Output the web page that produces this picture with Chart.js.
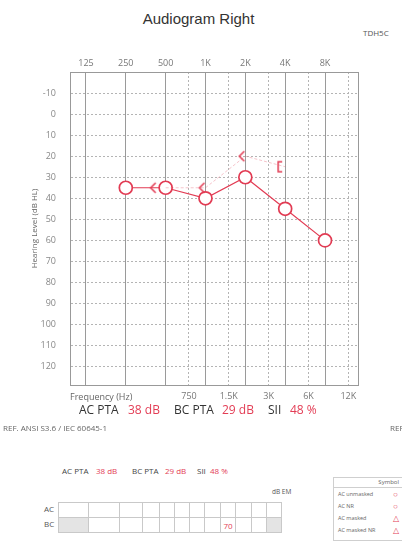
<!DOCTYPE html>
<html>
<head>
<meta charset="utf-8">
<script src="https://cdn.jsdelivr.net/npm/chart.js@4.4.0/dist/chart.umd.min.js"></script>
<style>
html, body { margin: 0; padding: 0; background: #fff; }
body { width: 402px; height: 541px; overflow: hidden; position: relative; font-family: "Open Sans", sans-serif; color: #444; }
#chartBox { position: absolute; left: 0; top: 0; width: 402px; height: 410px; }
.t { position: absolute; white-space: nowrap; line-height: 1; }
.red { color: #e33d55; }
#title { left: 0; width: 397px; top: 10px; text-align: center; font: 15px "Liberation Sans", Arial, sans-serif; color: #333; }
#pta1 span, #pta2 span { position: absolute; white-space: nowrap; }
#maskTable { position: absolute; left: 58px; top: 502px; border-collapse: collapse; table-layout: fixed; }
#maskTable td { border: 1px solid #c9c9c9; height: 14px; padding: 0; font-size: 8px; text-align: center; color: #e33d55; }
#maskTable td.off { background: #e4e4e4; }
#legend { position: absolute; left: 333px; top: 477px; width: 90px; height: 62px; border: 1px solid #cfcfcf; font-size: 5.5px; color: #666; }
#legend .hd { height: 9px; border-bottom: 1px solid #cfcfcf; text-align: right; padding-right: 25px; font-size: 6px; line-height: 9px; }
#legend .row { position: relative; height: 12px; line-height: 12px; padding-left: 4px; }
#legend .row b { position: absolute; left: 59px; top: 0; color: #e33d55; font-weight: normal; font-size: 8px; }
</style>
</head>
<body>
<div class="t" id="title">Audiogram Right</div>
<div class="t" style="left:363px; top:29px; font-size:8px; color:#555;">TDH5C</div>
<div id="chartBox"><canvas id="audiogram" width="402" height="410"></canvas></div>
<div class="t" style="left:70px; top:392px; font-size:9px; color:#666;">Frequency (Hz)</div>

<div id="pta1" style="position:absolute; left:0; top:404px; font-size:12px; line-height:1; color:#333;"></div>
<div class="t" style="left:3px; top:424px; font-size:8px; color:#666;">REF. ANSI S3.6 / IEC 60645-1</div>
<div class="t" style="left:390px; top:424px; font-size:8px; color:#666;">REF</div>
<div id="pta2" style="position:absolute; left:0; top:467px; font-size:8px; line-height:1; color:#444;"></div>

<div class="t" style="left:272px; top:489px; font-size:6.5px; color:#555;">dB EM</div>
<div class="t" style="left:44px; top:505px; font-size:8px; color:#555;">AC</div>
<div class="t" style="left:44px; top:520px; font-size:8px; color:#555;">BC</div>
<table id="maskTable"><tr id="acRow"></tr><tr id="bcRow"></tr></table>

<div id="legend"><div class="hd">Symbol</div></div>

<script>
// axis ticks
const topFreqs = [125, 250, 500, 1000, 2000, 4000, 8000];
const topLabels = ['125', '250', '500', '1K', '2K', '4K', '8K'];
const midFreqs = [750, 1500, 3000, 6000, 12000];
const midLabels = ['750', '1.5K', '3K', '6K', '12K'];
const levelTicks = [-10, 0, 10, 20, 30, 40, 50, 60, 70, 80, 90, 100, 110, 120];

// right ear, air conduction
const acFreqs = [250, 500, 1000, 2000, 4000, 8000];
const acLevels = [35, 35, 40, 30, 45, 60];
// right ear, bone conduction (last one masked)
const bcFreqs = [500, 1000, 2000, 4000];
const bcLevels = [35, 35, 20, 25];
const bcMasked = [false, false, false, true];

// summary
const acPta = 38;
const bcPta = 29;
const sii = 48;

// masking table
const tableFreqs = [125, 250, 500, 750, 1000, 1500, 2000, 3000, 4000, 6000, 8000, 12000];
const acMasking = [null, null, null, null, null, null, null, null, null, null, null, null];
const bcMasking = [null, null, null, null, null, null, null, null, 70, null, null, null];

const legendLabels = ['AC unmasked', 'AC NR', 'AC masked', 'AC masked NR'];
const legendSymbols = ['○', '○', '△', '△'];

const RED = '#e23b53';
const GRID = '#b4b4b4';
const tickFont = { family: '"Open Sans", sans-serif', size: 9 };
const XMIN = 94.7, XMAX = 14200;
const YMIN = -20, YMAX = 128.7;

// bone symbols sit just left of the frequency line
const bcShift = [-12, -3, -3, -5];
function marker(masked, dx) {
    const c = document.createElement('canvas');
    c.width = 40; c.height = 24;
    const g = c.getContext('2d');
    g.strokeStyle = RED;
    g.lineWidth = 1.5;
    const cx = 20 + dx, cy = 12;
    g.beginPath();
    if (masked) {
        g.moveTo(cx + 2, cy - 5); g.lineTo(cx - 2, cy - 5);
        g.lineTo(cx - 2, cy + 5); g.lineTo(cx + 2, cy + 5);
    } else {
        g.moveTo(cx + 2, cy - 5); g.lineTo(cx - 3, cy); g.lineTo(cx + 2, cy + 5);
    }
    g.stroke();
    return c;
}
const bcStyles = bcMasked.map((m, i) => marker(m, bcShift[i]));

function fixedTicks(list) {
    return scale => { scale.ticks = list.map(v => ({ value: v })); };
}

new Chart(document.getElementById('audiogram'), {
    type: 'scatter',
    data: {
        datasets: [
            {
                label: 'BC',
                data: bcFreqs.map((f, i) => ({ x: f, y: bcLevels[i] })),
                showLine: true,
                borderColor: 'rgba(226,59,83,0.3)',
                borderWidth: 1,
                borderDash: [3, 2],
                pointStyle: bcStyles,
                pointRadius: 6
            },
            {
                label: 'AC',
                data: acFreqs.map((f, i) => ({ x: f, y: acLevels[i] })),
                showLine: true,
                borderColor: RED,
                borderWidth: 1.2,
                pointStyle: 'circle',
                pointRadius: 6.5,
                pointBorderWidth: 1.7,
                pointBorderColor: RED,
                pointBackgroundColor: '#fff'
            }
        ]
    },
    options: {
        responsive: false,
        animation: false,
        events: [],
        layout: { padding: { left: 0, right: 44, top: 0, bottom: 0 } },
        plugins: { legend: { display: false }, tooltip: { enabled: false } },
        scales: {
            x: {
                type: 'logarithmic',
                position: 'bottom',
                min: XMIN,
                max: XMAX,
                afterBuildTicks: fixedTicks(midFreqs),
                afterFit: s => { s.height = 25; },
                ticks: { autoSkip: false, maxRotation: 0, padding: 6, font: tickFont, color: '#777',
                    callback: (v, i) => midLabels[i] },
                grid: { color: GRID, drawTicks: false },
                border: { color: '#999', dash: [2, 2] }
            },
            x2: {
                type: 'logarithmic',
                position: 'top',
                min: XMIN,
                max: XMAX,
                afterBuildTicks: fixedTicks(topFreqs),
                afterFit: s => { s.height = 72; },
                ticks: { autoSkip: false, maxRotation: 0, padding: 3, font: tickFont, color: '#777',
                    callback: (v, i) => topLabels[i] },
                grid: { color: '#9a9a9a', drawTicks: false },
                border: { color: '#999' }
            },
            y: {
                type: 'linear',
                reverse: true,
                min: YMIN,
                max: YMAX,
                afterBuildTicks: fixedTicks(levelTicks),
                afterFit: s => { s.width = 70; },
                ticks: { padding: 14, font: tickFont, color: '#888' },
                grid: { color: GRID, drawTicks: false },
                border: { color: '#999', dash: [2, 2] },
                title: { display: true, text: 'Hearing Level (dB HL)', color: '#666',
                    font: { family: '"Open Sans", sans-serif', size: 8 }, padding: { top: 30, bottom: 0 } }
            },
            y2: {
                position: 'right',
                min: YMIN,
                max: YMAX,
                afterFit: s => { s.width = 0; },
                ticks: { display: false },
                grid: { display: false, drawTicks: false },
                border: { color: '#999' }
            }
        }
    }
});

// PTA lines
function ptaLine(el, items) {
    items.forEach(it => {
        const s = document.createElement('span');
        s.textContent = it.text;
        s.style.left = it.left + 'px';
        if (it.red) s.className = 'red';
        el.appendChild(s);
    });
}
ptaLine(document.getElementById('pta1'), [
    { text: 'AC PTA', left: 79 }, { text: acPta + ' dB', left: 128, red: true },
    { text: 'BC PTA', left: 174 }, { text: bcPta + ' dB', left: 222, red: true },
    { text: 'SII', left: 268 }, { text: sii + ' %', left: 290, red: true }
]);
ptaLine(document.getElementById('pta2'), [
    { text: 'AC PTA', left: 62 }, { text: acPta + ' dB', left: 96, red: true },
    { text: 'BC PTA', left: 132 }, { text: bcPta + ' dB', left: 165, red: true },
    { text: 'SII', left: 197 }, { text: sii + ' %', left: 210, red: true }
]);

// masking table
const colWidths = [30, 31, 23, 17, 15, 15, 15, 16, 15, 16, 15, 15];
function fillRow(id, values, offCols) {
    const tr = document.getElementById(id);
    tableFreqs.forEach((f, i) => {
        const td = document.createElement('td');
        td.style.width = (colWidths[i] - 1) + 'px';
        if (values[i] !== null) td.textContent = values[i];
        if (offCols.includes(i)) td.className = 'off';
        tr.appendChild(td);
    });
}
fillRow('acRow', acMasking, []);
fillRow('bcRow', bcMasking, [0, tableFreqs.length - 1]);

// symbol legend
const legend = document.getElementById('legend');
legendLabels.forEach((lbl, i) => {
    const r = document.createElement('div');
    r.className = 'row';
    r.innerHTML = lbl + '<b>' + legendSymbols[i] + '</b>';
    legend.appendChild(r);
});
</script>
</body>
</html>
